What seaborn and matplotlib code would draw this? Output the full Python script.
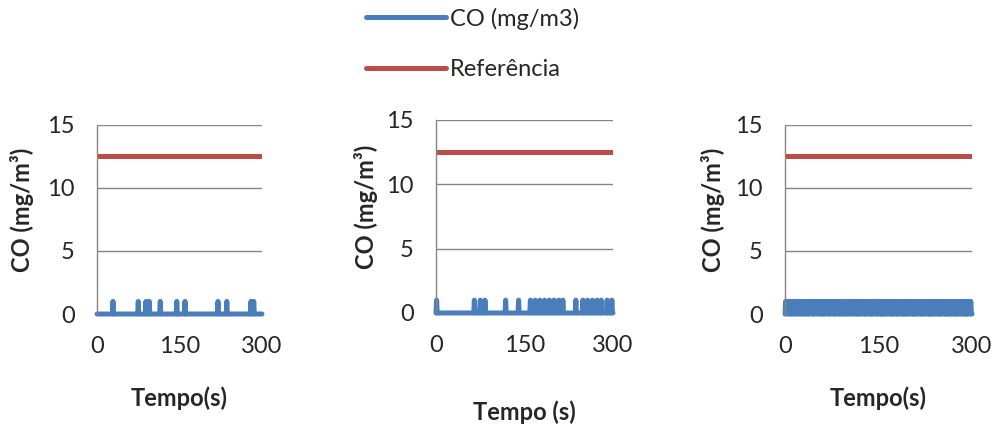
import numpy as np
import pandas as pd
import matplotlib
matplotlib.use("Agg")
import matplotlib.pyplot as plt
from matplotlib.lines import Line2D
import seaborn as sns

# data (time in seconds, CO in mg/m3)
duration = 300
referencia = 12.5
# seconds where the CO reading jumps to 1 (panels 1 and 2)
spikes_1 = [29, 75, 89, 95, 115, 145, 160, 220, 236, 280, 285]
spikes_2 = [1, 65, 75, 83, 118, 140, 160, 168, 176, 184, 192, 200, 208,
            215, 237, 249, 257, 265, 273, 280, 290, 298]
# panel 3: reading per second (0/1), flickers almost continuously
readings_3 = ("01011010100101101010110101001010110101010110101001"
              "10101101010010101101010101101010011010101101010110"
              "10100001101011010100101011010101011010100101101010"
              "11010100101010110101010010110101010110101001010101"
              "01101010010101101010100101011010101001010110101010"
              "010110101010010101101010100101011010101001010110100")
xlabels = ["Tempo(s)", "Tempo (s)", "Tempo(s)"]
xticks = [0, 150, 300]
yticks = [0, 5, 10, 15]

blue = "#4A7EBB"
red = "#BE4B48"
grey = "#868686"
fs = 17

sns.set_style("white")
plt.rcParams["font.family"] = ["Lato", "DejaVu Sans"]
plt.rcParams["font.size"] = fs

t = np.arange(duration + 1)
co1 = np.zeros(len(t))
co1[spikes_1] = 1
co2 = np.zeros(len(t))
co2[spikes_2] = 1
co3 = np.array([int(c) for c in readings_3[:len(t)]], dtype=float)

series = [co1, co2, co3]

fig = plt.figure(figsize=(9.95, 4.26), dpi=100)
boxes = [[0.0975, 0.2629, 0.1658, 0.4437],
         [0.4382, 0.2653, 0.1779, 0.4531],
         [0.7890, 0.2629, 0.1879, 0.4437]]
ylab_x = [-0.38, -0.33, -0.32]
xlab_y = [-0.385, -0.455, -0.385]

for i, co in enumerate(series):
    ax = fig.add_axes(boxes[i])
    df = pd.DataFrame({"t": t, "co": co, "ref": referencia})
    sns.lineplot(data=df, x="t", y="ref", color=red, lw=3.6, ax=ax,
                 solid_capstyle="butt")
    sns.lineplot(data=df, x="t", y="co", color=blue, lw=3.6, ax=ax,
                 solid_capstyle="round", solid_joinstyle="round", clip_on=False)
    ax.set_xlim(0, duration)
    ax.set_ylim(0, 15)
    ax.set_xticks(xticks)
    ax.set_yticks(yticks)
    ax.tick_params(axis="both", length=0, labelsize=fs)
    ax.tick_params(axis="x", pad=16)
    ax.tick_params(axis="y", pad=16)
    ax.grid(axis="y", color=grey, lw=1)
    ax.set_axisbelow(True)
    for s in ["top", "right", "bottom"]:
        ax.spines[s].set_visible(False)
    ax.spines["left"].set_color(grey)
    ax.spines["left"].set_linewidth(1)
    ax.set_xlabel(xlabels[i], fontweight="bold", fontsize=fs)
    ax.set_ylabel("CO (mg/m³)", fontweight="bold", fontsize=fs)
    ax.xaxis.set_label_coords(0.5, xlab_y[i])
    ax.yaxis.set_label_coords(ylab_x[i], 0.55)

handles = [Line2D([], [], color=blue, lw=3.6, solid_capstyle="round"),
           Line2D([], [], color=red, lw=3.6, solid_capstyle="round")]
fig.legend(handles, ["CO (mg/m3)", "Referência"], loc="upper left",
           bbox_to_anchor=(366 / 995, 0.982), frameon=False, borderpad=0,
           borderaxespad=0, handlelength=3.4, handletextpad=0.15,
           labelspacing=1.25, fontsize=fs)

fig.savefig("out.png", dpi=100)
